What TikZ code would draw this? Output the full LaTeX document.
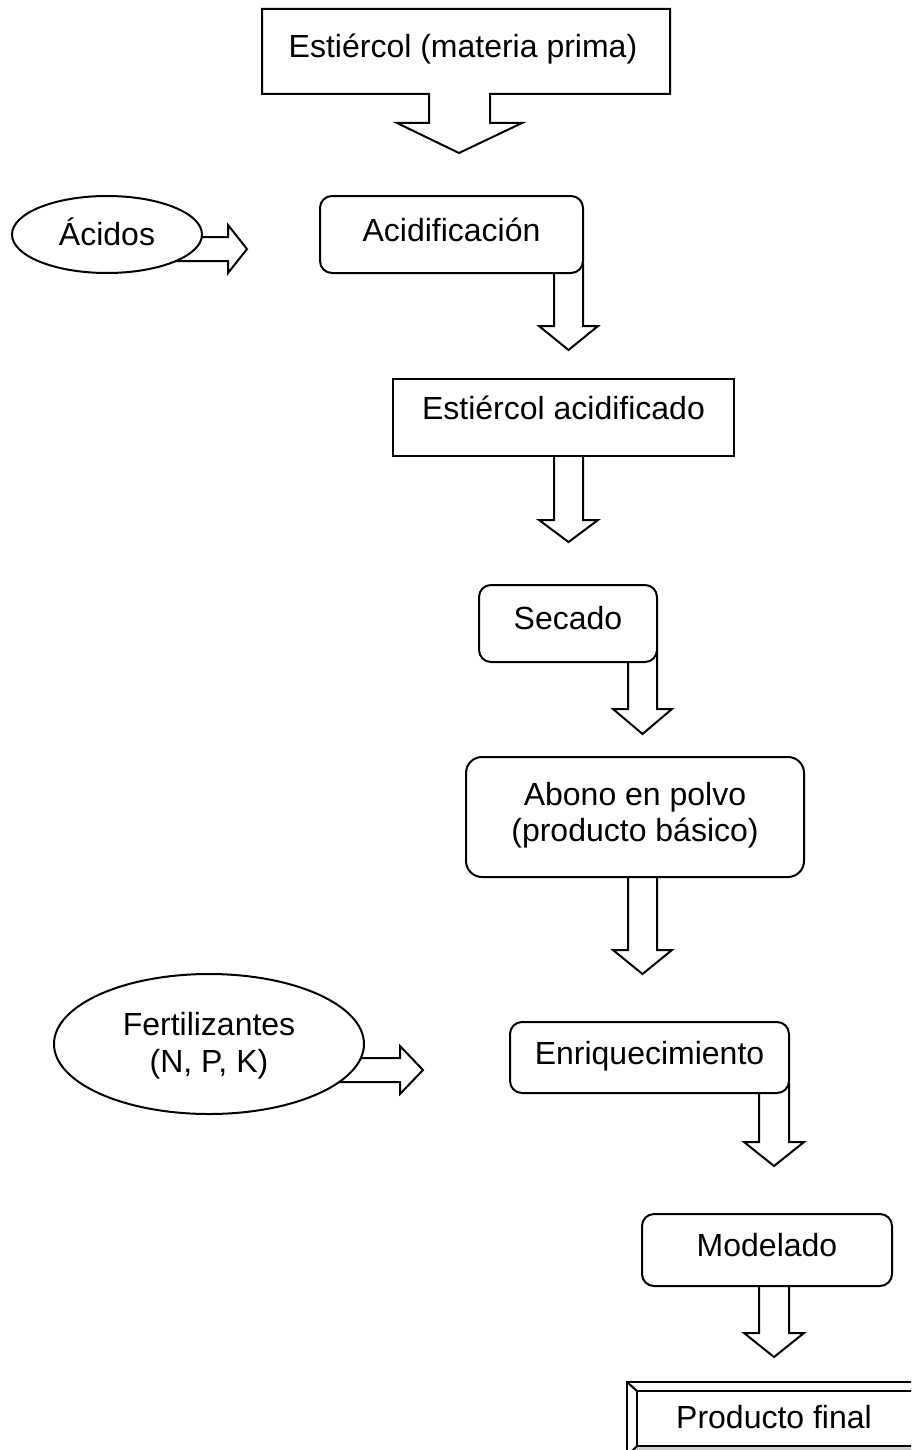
\documentclass[tikz,border=0pt]{standalone}
\usepackage{fontspec}
\setmainfont{Liberation Sans}
\usetikzlibrary{shapes.geometric}
\tikzset{
  lw/.style={line width=1pt},
  rbox/.style={draw, lw, fill=white, rounded corners=6pt, inner sep=0pt, outer sep=0pt},
  rboxbig/.style={rbox, rounded corners=8pt},
  sbox/.style={draw, lw, fill=white, inner sep=0pt, outer sep=0pt},
  ell/.style={draw, lw, fill=white, ellipse, inner sep=0pt, outer sep=0pt},
  txt/.style={font=\fontsize{16pt}{18pt}\selectfont, inner sep=0pt, anchor=base},
  blk/.style={draw, lw, fill=white, line join=miter},
}
% block arrow pointing down: stem left, stem right, top, wing y, tip y, wing extension
\newcommand\blkdown[6]{%
  \path[blk] (#1,#3) -- (#1,#4) -- ({#1-#6},#4) -- ({(#1+#2)/2},#5) -- ({#2+#6},#4) -- (#2,#4) -- (#2,#3);}
\begin{document}
\begin{tikzpicture}[x=0.5pt, y=-0.5pt]
\path[use as bounding box, fill=white] (0,0) rectangle (911,1450);
\clip (0,0) rectangle (911,1450);

% ---- top callout box with arrow
\draw[lw, fill=white, line join=miter] (262,9) -- (670,9) -- (670,94) -- (490,94) -- (490,123)
  -- (522,123) -- (459,153) -- (397,123) -- (429,123) -- (429,94) -- (262,94) -- cycle;
\node[txt] (tmp) at (463,58) {Estiércol (materia prima)};

% ---- Ácidos
\path[blk] (170,237) -- (228,237) -- (228,225) -- (247,249) -- (228,273) -- (228,261) -- (170,261) -- cycle;
\node[ell, minimum width=95pt, minimum height=38.5pt] (acidos) at (107,234.5) {};
\node[txt] (acidost) at (107,245) {Ácidos};

% ---- Acidificación
\blkdown{554}{583}{263}{326}{350}{15}
\node[rbox, minimum width=131.5pt, minimum height=38.5pt] (acid) at (451.5,234.5) {};
\node[txt] (acidt) at (451.5,241) {Acidificación};

% ---- Estiércol acidificado
\blkdown{554}{583}{456}{520}{542}{15}
\node[sbox, minimum width=170.5pt, minimum height=38.5pt] (estac) at (563.5,417.5) {};
\node[txt] (estact) at (563.5,419) {Estiércol acidificado};

% ---- Secado
\blkdown{628}{657}{650}{709}{734}{15}
\node[rbox, minimum width=89pt, minimum height=38.5pt] (sec) at (568,623.5) {};
\node[txt] (sect) at (568,629) {Secado};

% ---- Abono en polvo
\blkdown{628}{657}{877}{950}{974}{15}
\node[rboxbig, minimum width=169pt, minimum height=60pt] (abono) at (635,817) {};
\node[txt] (abono1) at (635,805) {Abono en polvo};
\node[txt] (abono2) at (635,841) {(producto básico)};

% ---- Fertilizantes
\path[blk] (300,1058) -- (400,1058) -- (400,1046) -- (423,1070) -- (400,1094) -- (400,1082) -- (300,1082) -- cycle;
\node[ell, minimum width=155pt, minimum height=70pt] (fert) at (209,1044) {};
\node[txt] (fert1) at (209,1035) {Fertilizantes};
\node[txt] (fert2) at (209,1072) {(N, P, K)};

% ---- Enriquecimiento
\blkdown{759}{789}{1083}{1142}{1166}{15}
\node[rbox, minimum width=139.5pt, minimum height=35.5pt] (enr) at (649.5,1057.5) {};
\node[txt] (enrt) at (649.5,1064) {Enriquecimiento};

% ---- Modelado
\blkdown{759}{789}{1286}{1333}{1357}{15}
\node[rbox, minimum width=125pt, minimum height=36pt] (mod) at (767,1250) {};
\node[txt] (modt) at (767,1256) {Modelado};

% ---- Producto final (bevel)
\fill[gray!40] (627,1456) -- (637,1446) -- (915,1446) -- (925,1456) -- cycle;
\draw[lw] (627,1382) rectangle (925,1456);
\draw[lw] (637,1391) rectangle (915,1446);
\draw[lw] (627,1382) -- (637,1391);
\draw[lw] (627,1456) -- (637,1446);
\node[txt] (prodt) at (774,1428) {Producto final};
\end{tikzpicture}
\end{document}
